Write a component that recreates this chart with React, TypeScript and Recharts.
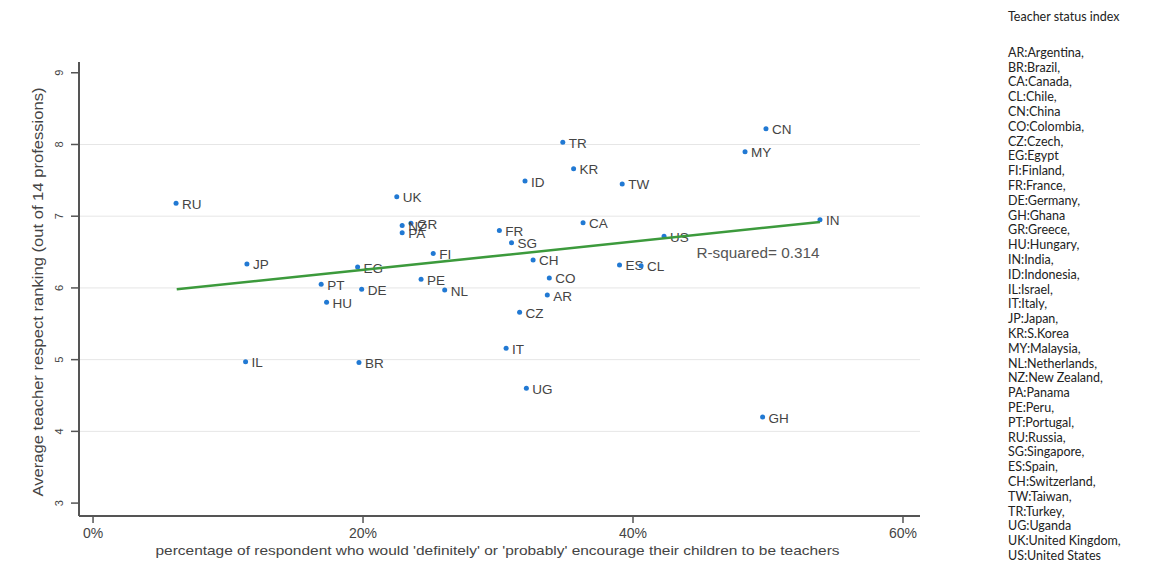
import { ScatterChart, Scatter, XAxis, YAxis, CartesianGrid, Label } from "recharts";

// x: % who would encourage their children to teach, y: average teacher respect ranking
const codes = ["RU", "UK", "GR", "NZ", "PA", "JP", "EG", "FI", "PT", "DE", "HU", "PE", "IL", "BR", "NL", "TR", "KR", "ID", "TW", "CA", "FR", "SG", "CH", "US", "ES", "CL", "CO", "AR", "CZ", "IT", "UG", "CN", "MY", "IN", "GH"];
const encourage = [6.15, 22.5, 23.55, 22.9, 22.9, 11.4, 19.6, 25.2, 16.9, 19.9, 17.3, 24.3, 11.3, 19.7, 26.05, 34.8, 35.6, 32.0, 39.2, 36.3, 30.1, 31.0, 32.6, 42.3, 39.0, 40.6, 33.8, 33.65, 31.6, 30.6, 32.1, 49.85, 48.3, 53.85, 49.6];
const respect = [7.18, 7.27, 6.9, 6.87, 6.77, 6.335, 6.29, 6.48, 6.05, 5.98, 5.8, 6.12, 4.97, 4.96, 5.97, 8.03, 7.66, 7.49, 7.45, 6.91, 6.8, 6.63, 6.39, 6.72, 6.32, 6.31, 6.14, 5.9, 5.66, 5.16, 4.6, 8.22, 7.9, 6.95, 4.2];

const fitLine = [
  { x: 6.2, y: 5.98 },
  { x: 53.85, y: 6.92 },
];
const rSquaredNote = [{ x: 44.7, y: 6.49, text: "R-squared= 0.314" }];

const xTicks = [0, 20, 40, 60];
const yTicks = [3, 4, 5, 6, 7, 8, 9];
const gridValues = [4, 5, 6, 7, 8];

const xTitle = "percentage of respondent who would 'definitely' or 'probably' encourage their children to be teachers";
const yTitle = "Average teacher respect ranking (out of 14 professions)";

const legendTitle = "Teacher status index";
const legendItems = [
  "AR:Argentina,", "BR:Brazil,", "CA:Canada,", "CL:Chile,", "CN:China", "CO:Colombia,", "CZ:Czech,",
  "EG:Egypt", "FI:Finland,", "FR:France,", "DE:Germany,", "GH:Ghana", "GR:Greece,", "HU:Hungary,",
  "IN:India,", "ID:Indonesia,", "IL:Israel,", "IT:Italy,", "JP:Japan,", "KR:S.Korea", "MY:Malaysia,",
  "NL:Netherlands,", "NZ:New Zealand,", "PA:Panama", "PE:Peru,", "PT:Portugal,", "RU:Russia,",
  "SG:Singapore,", "ES:Spain,", "CH:Switzerland,", "TW:Taiwan,", "TR:Turkey,", "UG:Uganda",
  "UK:United Kingdom,", "US:United States",
];

const countries = codes.map((code, i) => ({ code, x: encourage[i], y: respect[i] }));

const AXIS = "#555";
const TEXT = "#444";
const FONT = "'Liberation Sans', Arial, sans-serif";

const CountryDot = (props: any) => {
  const { cx, cy, payload } = props;
  return (
    <g>
      <circle cx={cx} cy={cy} r={2.5} fill="#2179d3" />
      <text x={cx + 6} y={cy + 1} dominantBaseline="central" fontSize={13.5} fill={TEXT} fontFamily={FONT}>
        {payload.code}
      </text>
    </g>
  );
};

const NoteText = (props: any) => {
  const { cx, cy, payload } = props;
  return (
    <text
      x={cx}
      y={cy}
      dominantBaseline="central"
      fontSize={14}
      fill="#555"
      fontFamily={FONT}
      textLength={123}
      lengthAdjust="spacingAndGlyphs"
    >
      {payload.text}
    </text>
  );
};

const YTick = (props: any) => {
  const { x, y, payload } = props;
  const tx = x - 10;
  return (
    <text
      x={tx}
      y={y}
      transform={`rotate(-90, ${tx}, ${y})`}
      textAnchor="middle"
      dominantBaseline="central"
      fontSize={11}
      fill={TEXT}
      fontFamily={FONT}
    >
      {payload.value}
    </text>
  );
};

const XTitle = (props: any) => {
  const { viewBox } = props;
  const cx = viewBox.x + viewBox.width / 2 - 2;
  const cy = 550;
  return (
    <text
      x={cx}
      y={cy}
      textAnchor="middle"
      dominantBaseline="central"
      fontSize={13}
      fill={TEXT}
      fontFamily={FONT}
      textLength={684}
      lengthAdjust="spacingAndGlyphs"
    >
      {xTitle}
    </text>
  );
};

const YTitle = (props: any) => {
  const { viewBox } = props;
  const cx = 37;
  const cy = viewBox.y + viewBox.height / 2 + 3;
  return (
    <text
      x={cx}
      y={cy}
      transform={`rotate(-90, ${cx}, ${cy})`}
      textAnchor="middle"
      dominantBaseline="central"
      fontSize={15.5}
      fill={TEXT}
      fontFamily={FONT}
      textLength={409}
      lengthAdjust="spacingAndGlyphs"
    >
      {yTitle}
    </text>
  );
};

export default function App() {
  return (
    <div style={{ position: "absolute", left: 0, top: 0, width: 1150, height: 567, background: "#fff" }}>
      <ScatterChart width={1150} height={567} margin={{ top: 62, right: 230, bottom: 0, left: 20 }}>
        <CartesianGrid horizontal vertical={false} horizontalValues={gridValues} stroke="#e6e6e6" />
        <XAxis
          dataKey="x"
          type="number"
          domain={[-1.04, 61.26]}
          allowDataOverflow
          ticks={xTicks}
          tickFormatter={(v) => `${v}%`}
          height={51}
          tickSize={7}
          tickMargin={5}
          axisLine={{ stroke: AXIS, strokeWidth: 2 }}
          tickLine={{ stroke: AXIS, strokeWidth: 1.5 }}
          tick={{ fontSize: 14, fill: TEXT, fontFamily: FONT }}
        >
          <Label content={<XTitle />} />
        </XAxis>
        <YAxis
          dataKey="y"
          type="number"
          domain={[2.82, 9.15]}
          allowDataOverflow
          ticks={yTicks}
          width={59}
          tickSize={8}
          axisLine={{ stroke: AXIS, strokeWidth: 2 }}
          tickLine={{ stroke: AXIS, strokeWidth: 1.5 }}
          tick={<YTick />}
        >
          <Label content={<YTitle />} />
        </YAxis>
        <Scatter data={countries} shape={<CountryDot />} isAnimationActive={false} />
        <Scatter
          data={fitLine}
          line={{ stroke: "#3c9a3c", strokeWidth: 2.5 }}
          shape={() => <g />}
          isAnimationActive={false}
        />
        <Scatter data={rSquaredNote} shape={<NoteText />} isAnimationActive={false} />
      </ScatterChart>
      <div
        style={{
          position: "absolute",
          left: 1008,
          top: 10,
          fontFamily: "Lato, 'Noto Sans', sans-serif",
          fontSize: 12.5,
          lineHeight: "14.8px",
          color: "#222",
          whiteSpace: "nowrap",
        }}
      >
        <div style={{ marginBottom: 21 }}>{legendTitle}</div>
        {legendItems.map((item) => (
          <div key={item}>{item}</div>
        ))}
      </div>
    </div>
  );
}
